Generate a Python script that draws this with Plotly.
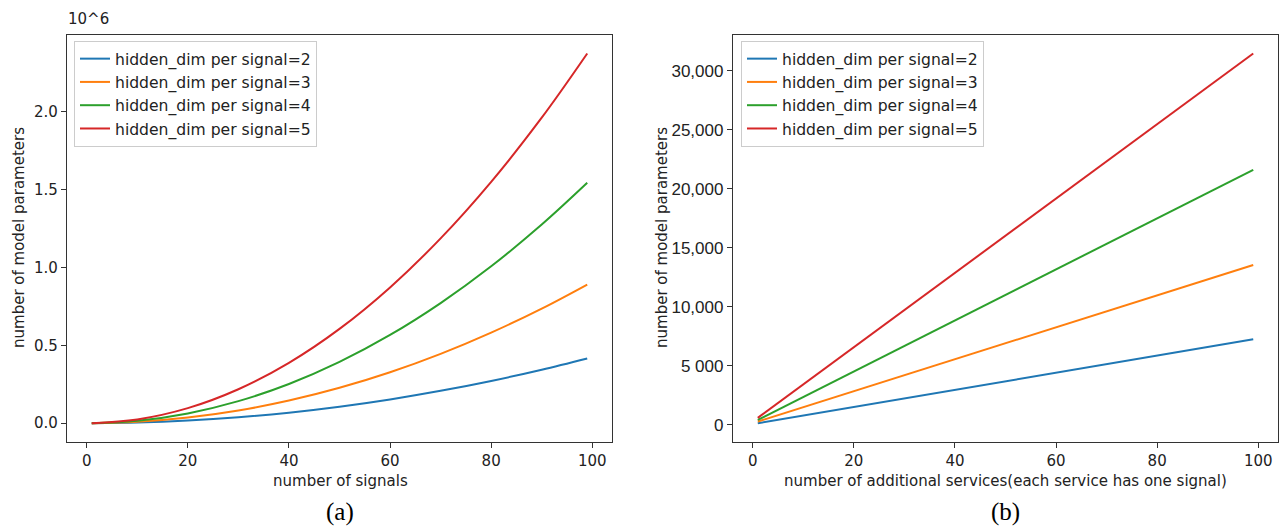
import plotly.graph_objects as go

# ---- data ----
hidden_dims = [2, 3, 4, 5]
colors = ["#1f77b4", "#ff7f0e", "#2ca02c", "#d62728"]

# (a) number of signals vs parameters (x 10^6)
signals = [1, 10, 20, 30, 40, 50, 60, 70, 80, 90, 99]
params_a = {
    2: [0.0000, 0.0042, 0.0170, 0.0382, 0.0679, 0.1061, 0.1528, 0.2080, 0.2716, 0.3438, 0.416],
    3: [0.0001, 0.0091, 0.0364, 0.0818, 0.1454, 0.2273, 0.3272, 0.4454, 0.5818, 0.7363, 0.891],
    4: [0.0002, 0.0158, 0.0630, 0.1418, 0.2520, 0.3938, 0.5670, 0.7718, 1.0080, 1.2758, 1.544],
    5: [0.0002, 0.0242, 0.0969, 0.2181, 0.3877, 0.6058, 0.8723, 1.1873, 1.5507, 1.9626, 2.375],
}

# (b) additional services vs parameters
services = [1, 99]
params_b = {
    2: [150, 7260],
    3: [290, 13560],
    4: [430, 21620],
    5: [600, 31480],
}

x_ticks = [0, 20, 40, 60, 80, 100]
ya_ticks = [0.0, 0.5, 1.0, 1.5, 2.0]
ya_ticktext = ["0.0", "0.5", "1.0", "1.5", "2.0"]
yb_ticks = [0, 5000, 10000, 15000, 20000, 25000, 30000]
yb_ticktext = ["0", "5 000", "10,000", "15,000", "20,000", "25,000", "30,000"]

W, H = 1282, 527
FONT = "DejaVu Sans"
AX = "#333333"

def px(x):
    return x / W

def py(y):
    return (H - y) / H

fig = go.Figure()
for h, c in zip(hidden_dims, colors):
    fig.add_trace(go.Scatter(
        x=signals, y=params_a[h], mode="lines", line=dict(color=c, width=2, shape="spline"),
        name=f"hidden_dim per signal={h}", xaxis="x", yaxis="y", legend="legend"))
for h, c in zip(hidden_dims, colors):
    fig.add_trace(go.Scatter(
        x=services, y=params_b[h], mode="lines", line=dict(color=c, width=2),
        name=f"hidden_dim per signal={h}", xaxis="x2", yaxis="y2", legend="legend2"))

axis_common = dict(showline=True, mirror=True, linecolor=AX, linewidth=1.3,
                   ticks="outside", ticklen=5, tickcolor=AX, tickwidth=1.2,
                   showgrid=False, zeroline=False,
                   tickfont=dict(family=FONT, size=15, color="#222"))

ydom = [py(441.7), py(35)]
leg_font = dict(family=FONT, size=15.6, color="#222")
fig.update_layout(
    width=W, height=H, margin=dict(l=0, r=0, t=0, b=0),
    paper_bgcolor="white", plot_bgcolor="white",
    xaxis=dict(domain=[px(67), px(612)], range=[-3.9, 103.9], tickvals=x_ticks, anchor="y", **axis_common),
    yaxis=dict(domain=ydom, range=[-0.1187, 2.4937], tickvals=ya_ticks, ticktext=ya_ticktext, anchor="x", **axis_common),
    xaxis2=dict(domain=[px(733), px(1278)], range=[-3.9, 103.9], tickvals=x_ticks, anchor="y2", **axis_common),
    yaxis2=dict(domain=ydom, range=[-1416, 33047], tickvals=yb_ticks, ticktext=yb_ticktext, anchor="x2",
                **{**axis_common, "tickfont": dict(family="Liberation Sans", size=17, color="#222")}),
    legend=dict(x=px(74), y=py(41), xanchor="left", yanchor="top", bgcolor="white",
                bordercolor="#cccccc", borderwidth=1, font=leg_font),
    legend2=dict(x=px(741), y=py(41), xanchor="left", yanchor="top", bgcolor="white",
                 bordercolor="#cccccc", borderwidth=1, font=leg_font),
)

def ann(text, x, y, size=15, family=FONT, angle=0, color="#222"):
    fig.add_annotation(text=text, x=px(x), y=py(y), xref="paper", yref="paper",
                       showarrow=False, textangle=angle, xanchor="center", yanchor="middle",
                       font=dict(family=family, size=size, color=color))

ann("10^6", 88, 19)
ann("number of model parameters", 19, 238, angle=-90)
ann("number of model parameters", 662, 238, angle=-90)
ann("number of signals", 340, 481)
ann("number of additional services(each service has one signal)", 1005, 481)
ann("(a)", 340, 512, size=25, family="Liberation Serif", color="#000")
ann("(b)", 1005, 512, size=25, family="Liberation Serif", color="#000")

fig.write_html("out.html", config={"displayModeBar": False},
               post_script="document.body.style.margin='0';")
